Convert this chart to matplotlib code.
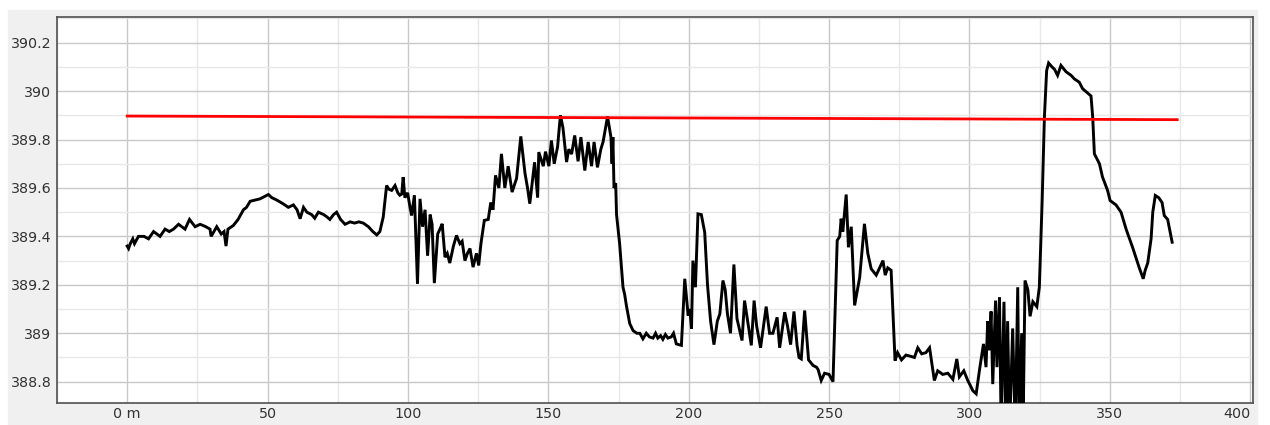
import numpy as np
import matplotlib
matplotlib.use('Agg')
import matplotlib.pyplot as plt
from matplotlib.patches import Rectangle

# elevation profile (distance in m, elevation)
dist = [0.0, 0.5, 1.1, 2.0, 2.6, 4.0, 6.0, 7.6, 9.4, 11.7, 13.5, 15.0, 16.5, 18.3, 20.6,
        22.2, 24.2, 26.0, 28.0, 29.5, 29.9, 31.9, 33.5, 34.5, 35.2, 35.9, 37.8, 39.5, 41.4,
        42.5, 43.8, 45.5, 47.3, 49.0, 50.3, 51.5, 53.3, 55.5, 57.4, 59.2, 60.5, 61.6, 62.8,
        64.0, 65.7, 66.8, 68.1, 70.0, 71.2, 72.2, 73.5, 74.6, 76.0, 77.6, 79.4, 81.0, 82.5,
        84.1, 85.9, 87.5, 88.9, 90.0, 91.2, 92.4, 93.2, 94.2, 95.4, 96.4, 97.1, 97.8, 98.3,
        98.9, 99.9, 100.6, 101.3, 102.3, 103.4, 104.3, 105.2, 106.1, 107.0, 107.9, 108.6,
        109.4, 110.6, 111.4, 112.2, 113.2, 114.0, 114.9, 116.2, 117.3, 118.5, 119.3, 120.3,
        121.2, 122.1, 123.2, 124.4, 125.2, 126.0, 127.2, 128.6, 129.5, 130.3, 131.2, 132.4,
        133.3, 134.5, 135.7, 137.1, 138.7, 140.2, 141.7, 142.6, 143.4, 145.1, 146.2, 146.6,
        148.2, 149.0, 150.2, 151.1, 152.1, 153.3, 154.3, 155.2, 156.5, 157.3, 158.3, 159.4,
        160.6, 161.6, 163.0, 164.2, 165.4, 166.3, 167.5, 168.7, 169.5, 171.1, 172.3, 172.7,
        173.0, 173.4, 174.0, 174.3, 175.4, 176.6, 177.2, 177.8, 179.0, 180.2, 181.5, 182.6,
        183.7, 184.9, 186.0, 187.3, 188.2, 189.0, 190.0, 190.8, 191.7, 192.6, 193.8, 194.6,
        195.6, 197.4, 198.6, 199.8, 200.4, 201.0, 201.5, 202.4, 203.3, 204.5, 205.7, 206.7,
        207.8, 209.0, 210.2, 211.1, 212.2, 213.0, 213.8, 214.9, 216.1, 217.2, 219.0, 219.9,
        221.0, 222.3, 223.3, 224.2, 225.6, 227.6, 228.8, 230.0, 231.5, 232.4, 234.2, 235.2,
        236.3, 237.5, 238.6, 239.3, 240.1, 241.3, 242.7, 244.3, 245.5, 246.1, 247.2, 248.4,
        250.0, 251.4, 252.9, 253.8, 254.3, 254.9, 256.1, 256.9, 257.9, 259.1, 260.9, 262.6,
        263.8, 265.0, 266.8, 268.0, 269.2, 270.0, 270.9, 272.1, 273.5, 274.4, 275.8, 277.4,
        279.0, 280.4, 281.6, 283.0, 284.5, 285.8, 287.5, 288.7, 290.5, 292.3, 294.1, 295.5,
        296.4, 298.0, 299.4, 300.5, 301.2, 302.4, 303.6, 305.0, 305.9, 306.5, 307.0, 307.7,
        308.3, 309.3, 309.8, 310.7, 311.3, 312.3, 313.0, 313.6, 314.3, 315.4, 316.3, 317.2,
        317.7, 318.6, 319.1, 319.8, 320.8, 321.6, 322.6, 324.0, 324.9, 325.9, 326.7, 327.5,
        328.2, 329.4, 330.3, 331.4, 332.6, 334.4, 336.2, 337.4, 339.1, 340.3, 342.1, 343.3,
        343.9, 344.5, 346.3, 347.4, 349.2, 350.1, 352.2, 354.0, 355.8, 358.1, 360.5, 361.9,
        362.6, 363.5, 364.7, 365.3, 366.2, 367.4, 368.6, 369.4, 370.6, 372.2]
elev = [389.36, 389.35, 389.37, 389.39, 389.37, 389.40, 389.40, 389.39, 389.42, 389.40,
        389.43, 389.42, 389.43, 389.45, 389.43, 389.47, 389.44, 389.45, 389.44, 389.43,
        389.40, 389.44, 389.41, 389.42, 389.36, 389.43, 389.445, 389.47, 389.51, 389.52,
        389.545, 389.55, 389.555, 389.565, 389.573, 389.56, 389.55, 389.535, 389.52, 389.53,
        389.51, 389.473, 389.52, 389.50, 389.49, 389.475, 389.50, 389.49, 389.48, 389.47,
        389.49, 389.50, 389.47, 389.45, 389.46, 389.455, 389.46, 389.455, 389.44, 389.42,
        389.406, 389.42, 389.48, 389.61, 389.595, 389.59, 389.61, 389.58, 389.57, 389.575,
        389.645, 389.56, 389.58, 389.53, 389.486, 389.57, 389.204, 389.555, 389.44, 389.51,
        389.32, 389.49, 389.45, 389.207, 389.41, 389.43, 389.452, 389.314, 389.33, 389.29,
        389.36, 389.404, 389.37, 389.38, 389.30, 389.33, 389.35, 389.273, 389.33, 389.28,
        389.37, 389.466, 389.47, 389.54, 389.51, 389.652, 389.60, 389.741, 389.60, 389.69,
        389.583, 389.64, 389.813, 389.66, 389.60, 389.535, 389.706, 389.56, 389.748, 389.69,
        389.75, 389.69, 389.796, 389.70, 389.77, 389.90, 389.85, 389.707, 389.76, 389.74,
        389.817, 389.71, 389.81, 389.672, 389.79, 389.69, 389.79, 389.685, 389.76, 389.79,
        389.895, 389.81, 389.70, 389.81, 389.60, 389.62, 389.49, 389.37, 389.19, 389.16,
        389.115, 389.04, 389.011, 389.00, 389.00, 388.977, 389.00, 388.985, 388.98, 389.00,
        388.98, 388.99, 388.975, 388.995, 388.98, 388.985, 389.00, 388.956, 388.95, 389.225,
        389.073, 389.10, 389.018, 389.30, 389.19, 389.493, 389.49, 389.417, 389.20, 389.05,
        388.953, 389.05, 389.08, 389.218, 389.18, 389.08, 389.00, 389.284, 389.06, 388.97,
        389.135, 389.05, 388.95, 389.135, 389.03, 388.94, 389.11, 389.00, 389.00, 389.066,
        388.94, 389.087, 389.03, 388.953, 389.09, 388.95, 388.90, 388.894, 389.094, 388.89,
        388.867, 388.86, 388.85, 388.805, 388.835, 388.83, 388.80, 389.383, 389.40, 389.473,
        389.42, 389.573, 389.355, 389.44, 389.115, 389.23, 389.452, 389.33, 389.266, 389.24,
        389.27, 389.30, 389.24, 389.27, 389.26, 388.887, 388.92, 388.89, 388.91, 388.905,
        388.90, 388.94, 388.915, 388.92, 388.94, 388.805, 388.845, 388.83, 388.835, 388.81,
        388.894, 388.82, 388.845, 388.805, 388.78, 388.763, 388.75, 388.85, 388.956, 388.86,
        389.05, 388.93, 389.09, 388.79, 389.135, 388.86, 389.149, 388.60, 389.13, 388.60,
        389.05, 388.60, 389.02, 388.60, 389.19, 388.60, 389.00, 388.60, 389.218, 389.18,
        389.07, 389.13, 389.11, 389.19, 389.548, 389.893, 390.085, 390.116, 390.10, 390.09,
        390.065, 390.106, 390.08, 390.065, 390.05, 390.037, 390.01, 389.992, 389.98, 389.893,
        389.741, 389.70, 389.645, 389.59, 389.548, 389.53, 389.50, 389.43, 389.355, 389.27,
        389.225, 389.26, 389.29, 389.39, 389.50, 389.569, 389.56, 389.54, 389.486, 389.47,
        389.376]

# straight reference line
ref_dist = [0.0, 374.0]
ref_elev = [389.897, 389.882]

x_ticks = [0, 50, 100, 150, 200, 250, 300, 350, 400]
x_labels = ['0 m', '50', '100', '150', '200', '250', '300', '350', '400']
y_ticks = [388.8, 389.0, 389.2, 389.4, 389.6, 389.8, 390.0, 390.2]
y_labels = ['388.8', '389', '389.2', '389.4', '389.6', '389.8', '390', '390.2']

W, H = 1270, 425
fig = plt.figure(figsize=(W / 100, H / 100), dpi=100, facecolor='white')
fig.patches.append(Rectangle((8 / W, 0), (1257 - 8) / W, (H - 10) / H,
                             transform=fig.transFigure, color='#f0f0f0', zorder=-5))

ax = fig.add_axes([57 / W, 1 - 403 / H, (1253 - 57) / W, (403 - 17) / H])
ax.set_facecolor('white')

ax.plot(dist, elev, color='black', lw=2.1, solid_joinstyle='miter', zorder=3)
ax.plot(ref_dist, ref_elev, color='#ff0000', lw=2.0, zorder=4)

ax.set_xlim(-25, 401)
ax.set_ylim(388.712, 390.306)

ax.set_xticks(x_ticks)
ax.set_xticklabels(x_labels)
ax.set_yticks(y_ticks)
ax.set_yticklabels(y_labels)
ax.set_xticks(np.arange(-25, 401, 25), minor=True)
ax.set_yticks(np.arange(388.8, 390.31, 0.1), minor=True)

ax.grid(which='major', color='#c8c8c8', lw=1.0, zorder=0)
ax.grid(which='minor', color='#e8e8e8', lw=1.0, zorder=0)
ax.set_axisbelow(True)

ax.tick_params(which='both', length=0)
ax.tick_params(axis='y', pad=4, labelsize=10.3, labelcolor='#333333')
ax.tick_params(axis='x', pad=3, labelsize=10.3, labelcolor='#333333')
ax.get_xticklabels()[-1].set_ha('right')

for s in ax.spines.values():
    s.set_color('#505050')
    s.set_linewidth(1.2)

fig.savefig('out.png', dpi=100, facecolor=fig.get_facecolor())
